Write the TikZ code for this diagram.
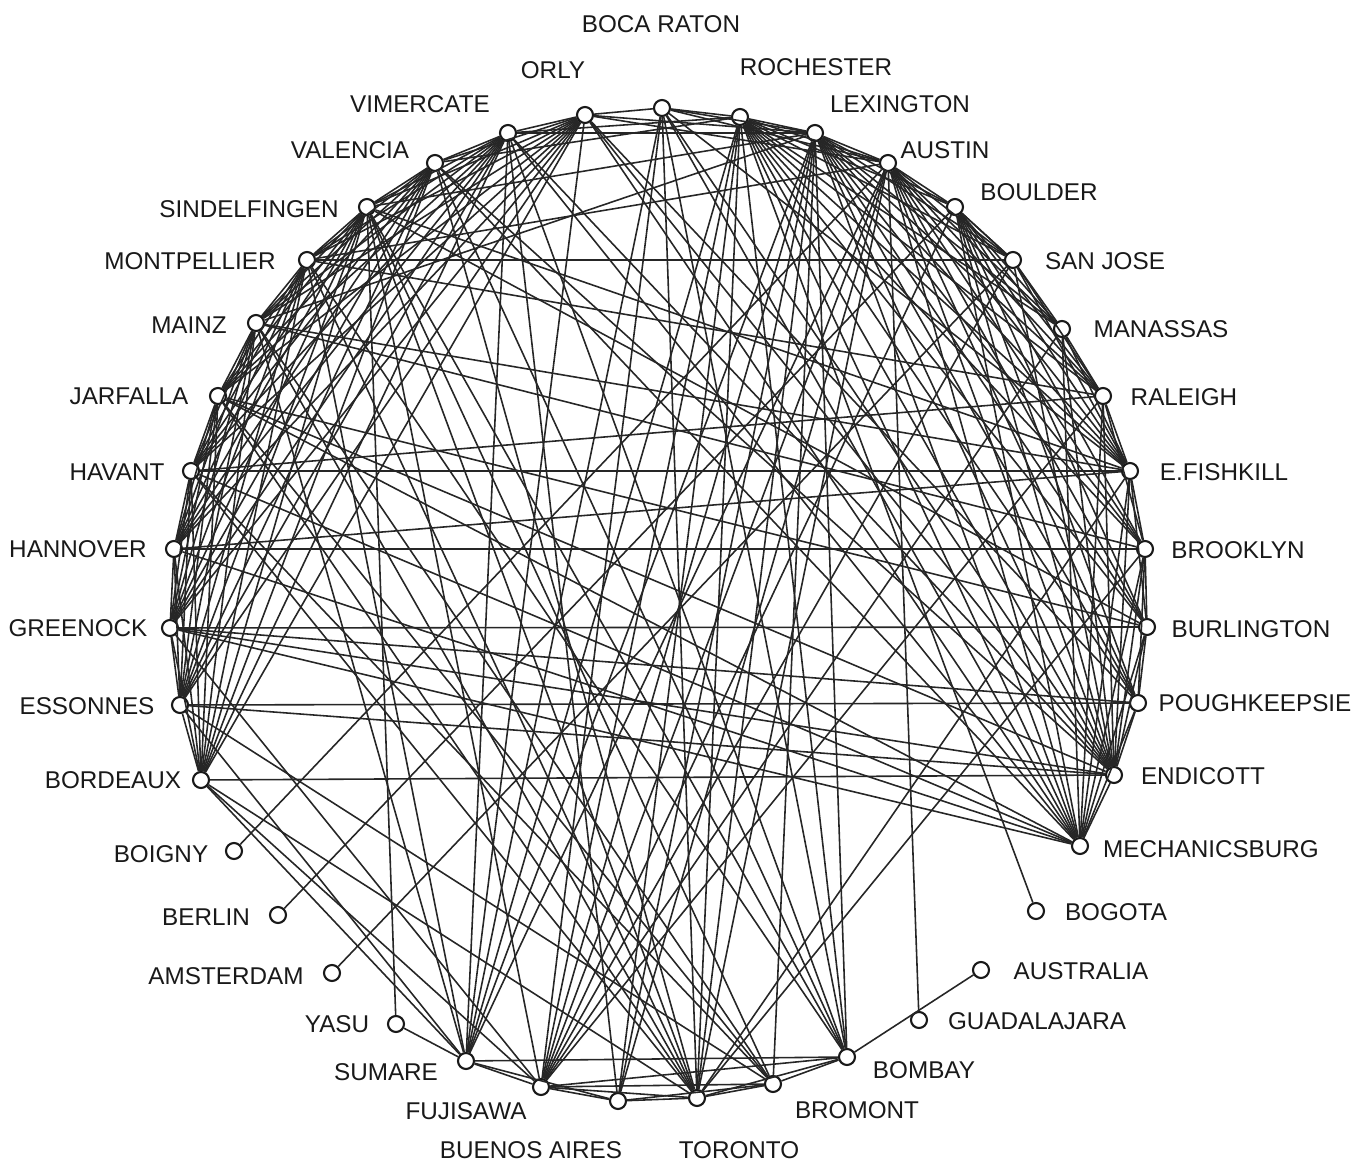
\documentclass[tikz,border=0pt]{standalone}
\usepackage{fontspec}
\setmainfont{Liberation Sans}
\begin{document}
\begin{tikzpicture}[x=0.01cm,y=-0.01cm,
  city/.style={circle,draw=black!90,line width=0.6pt,minimum size=0.16cm,inner sep=0pt},
  edge/.style={draw=black!85,line width=0.45pt},
  lab/.style={font=\fontsize{6.9}{8}\selectfont,text=black!90,inner sep=0pt}]
\useasboundingbox (0,0) rectangle (1360,1165);
% nodes
\node[city] (boca) at (662,108) {};
\node[city] (roch) at (740,117) {};
\node[city] (lex)  at (815,133) {};
\node[city] (aus)  at (888,163) {};
\node[city] (boul) at (955,207) {};
\node[city] (sj)   at (1013,260) {};
\node[city] (man)  at (1062,329) {};
\node[city] (ral)  at (1103,396) {};
\node[city] (efk)  at (1130,471) {};
\node[city] (bro)  at (1145,549) {};
\node[city] (bur)  at (1147,627) {};
\node[city] (pok)  at (1138,703) {};
\node[city] (end)  at (1114,775) {};
\node[city] (mech) at (1080,846) {};
\node[city] (bog)  at (1036,911) {};
\node[city] (aust) at (981,970) {};
\node[city] (gua)  at (919,1020) {};
\node[city] (bom)  at (847,1057) {};
\node[city] (brm)  at (773,1084) {};
\node[city] (tor)  at (697,1098) {};
\node[city] (ba)   at (618,1101) {};
\node[city] (fuj)  at (541,1087) {};
\node[city] (sum)  at (466,1061) {};
\node[city] (yas)  at (396,1024) {};
\node[city] (ams)  at (332,973) {};
\node[city] (ber)  at (278,915) {};
\node[city] (boi)  at (234,851) {};
\node[city] (bdx)  at (201,780) {};
\node[city] (ess)  at (180,705) {};
\node[city] (gre)  at (170,628) {};
\node[city] (han)  at (174,549) {};
\node[city] (hav)  at (191,471) {};
\node[city] (jar)  at (218,396) {};
\node[city] (mai)  at (256,323) {};
\node[city] (mon)  at (307,260) {};
\node[city] (sin)  at (367,207) {};
\node[city] (val)  at (435,163) {};
\node[city] (vim)  at (508,133) {};
\node[city] (orl)  at (585,115) {};
% labels
\node[lab] (l-boca) at (661,24) {BOCA RATON};
\node[lab] (l-orl) at (553,70) {ORLY};
\node[lab] (l-roch) at (816,67) {ROCHESTER};
\node[lab] (l-vim) at (420,104) {VIMERCATE};
\node[lab] (l-lex) at (900,104) {LEXINGTON};
\node[lab] (l-val) at (350,150) {VALENCIA};
\node[lab] (l-aus) at (945,150) {AUSTIN};
\node[lab] (l-sin) at (249,209) {SINDELFINGEN};
\node[lab] (l-boul) at (1039,192) {BOULDER};
\node[lab] (l-mon) at (190,261) {MONTPELLIER};
\node[lab] (l-sj) at (1105,261) {SAN JOSE};
\node[lab] (l-mai) at (189,325) {MAINZ};
\node[lab] (l-man) at (1161,329) {MANASSAS};
\node[lab] (l-jar) at (129,396) {JARFALLA};
\node[lab] (l-ral) at (1184,397) {RALEIGH};
\node[lab] (l-hav) at (117,472) {HAVANT};
\node[lab] (l-efk) at (1224,472) {E.FISHKILL};
\node[lab] (l-han) at (78,549) {HANNOVER};
\node[lab] (l-bro) at (1238,550) {BROOKLYN};
\node[lab] (l-gre) at (78,628) {GREENOCK};
\node[lab] (l-bur) at (1251,629) {BURLINGTON};
\node[lab] (l-ess) at (87,706) {ESSONNES};
\node[lab] (l-pok) at (1255,703) {POUGHKEEPSIE};
\node[lab] (l-bdx) at (113,780) {BORDEAUX};
\node[lab] (l-end) at (1203,776) {ENDICOTT};
\node[lab] (l-boi) at (161,854) {BOIGNY};
\node[lab] (l-mech) at (1211,849) {MECHANICSBURG};
\node[lab] (l-ber) at (206,917) {BERLIN};
\node[lab] (l-bog) at (1116,912) {BOGOTA};
\node[lab] (l-ams) at (226,976) {AMSTERDAM};
\node[lab] (l-aust) at (1081,971) {AUSTRALIA};
\node[lab] (l-yas) at (337,1024) {YASU};
\node[lab] (l-gua) at (1037,1021) {GUADALAJARA};
\node[lab] (l-sum) at (386,1072) {SUMARE};
\node[lab] (l-bom) at (924,1070) {BOMBAY};
\node[lab] (l-fuj) at (466,1111) {FUJISAWA};
\node[lab] (l-brm) at (857,1110) {BROMONT};
\node[lab] (l-ba) at (531,1150) {BUENOS AIRES};
\node[lab] (l-tor) at (739,1150) {TORONTO};
% perimeter chain
\foreach \a/\b in {boca/roch,roch/lex,lex/aus,aus/boul,boul/sj,sj/man,man/ral,ral/efk,efk/bro,bro/bur,bur/pok,pok/end,end/mech,
  bom/brm,brm/tor,tor/ba,ba/fuj,fuj/sum,sum/yas,
  bdx/ess,ess/gre,gre/han,han/hav,hav/jar,jar/mai,mai/mon,mon/sin,sin/val,val/vim,vim/orl,orl/boca}
  \draw[edge] (\a) -- (\b);
% US cluster
\foreach \a in {roch,lex,aus,boul}
  \foreach \b in {sj,man,ral,efk,bro,bur,pok,end,mech}
    \draw[edge] (\a) -- (\b);
\foreach \a/\b in {roch/aus,roch/boul,lex/boul,
  sj/ral,sj/efk,sj/end,man/efk,man/end,man/mech,ral/bro,ral/end,ral/mech,efk/bur,efk/end,efk/mech,
  bro/pok,bro/end,bro/mech,bur/end,bur/mech,pok/mech,
  boca/lex,boca/aus,boca/end,boca/mech,boca/efk}
  \draw[edge] (\a) -- (\b);
% European cluster
\foreach \a/\b in {bdx/gre,bdx/han,bdx/hav,bdx/jar,bdx/mai,bdx/mon,bdx/sin,bdx/val,bdx/vim,bdx/orl,
  ess/han,ess/hav,ess/jar,ess/mai,ess/mon,ess/sin,ess/val,ess/vim,ess/orl,
  gre/hav,gre/jar,gre/mai,gre/mon,gre/sin,gre/val,gre/vim,gre/orl,
  han/jar,han/mai,han/mon,han/sin,han/val,han/vim,han/orl,
  hav/mai,hav/mon,hav/sin,hav/val,hav/vim,hav/orl,
  jar/mon,jar/sin,jar/val,jar/vim,jar/orl,
  mai/sin,mai/val,mai/vim,mai/orl,
  mon/val,mon/vim,mon/orl,
  sin/vim,sin/orl,val/orl}
  \draw[edge] (\a) -- (\b);
% long cross edges
\foreach \a/\b in {mon/sj,hav/efk,han/bro,gre/pok,bdx/end,ess/end,gre/end,han/mech,hav/mech,jar/end,
  sin/yas,tor/boca,tor/roch,bom/lex,gua/aus,boi/aus,ber/boul,ams/sj,bog/roch,aust/bom,vim/ba,vim/end,boca/fuj,
  tor/lex,tor/aus,tor/mai,tor/jar,tor/mon,tor/sin,tor/val,tor/hav,tor/bom,tor/efk,tor/bro,
  sum/vim,sum/orl,sum/roch,sum/lex,sum/boca,sum/aus,sum/mon,sum/mai,sum/bom,sum/ba,
  fuj/roch,fuj/lex,fuj/aus,fuj/boul,fuj/sj,fuj/man,fuj/ral,fuj/sin,fuj/tor,fuj/brm,
  brm/mai,brm/hav,brm/jar,brm/sin,brm/lex,brm/ba,
  bom/sin,bom/mon,bom/val,bom/vim,bom/roch,bom/boca,bom/fuj,
  ba/roch,ba/lex,ba/aus,
  bdx/sum,ess/sum,gre/fuj,bdx/fuj,bdx/tor,ess/brm,
  jar/bur,mai/efk,hav/ral,han/efk,gre/bur,ess/pok,mon/ral,sin/efk,val/end,val/mech,orl/mech,orl/end,
  sin/bur,mai/bro,jar/mech,orl/pok,vim/mech,
  orl/lex,orl/aus,vim/roch,vim/lex,val/roch,sin/lex,mon/aus,mai/lex,gre/mech}
  \draw[edge] (\a) -- (\b);
\end{tikzpicture}
\end{document}
